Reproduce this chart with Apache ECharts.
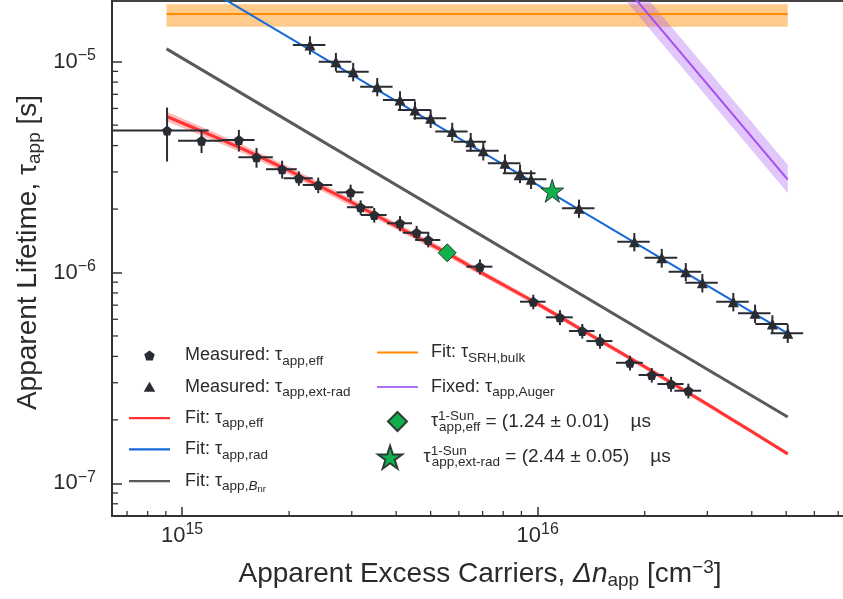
<!DOCTYPE html>
<html><head><meta charset="utf-8">
<script src="https://cdn.jsdelivr.net/npm/echarts@6/dist/echarts.min.js"></script>
<style>html,body{margin:0;padding:0;background:#fff}#c{width:843px;height:599px}</style>
</head><body><div id="c"></div>
<script>
// ---------- data ----------
// Measured tau_app,eff (pentagons)
const effN      = [9.07e14,1.134e15,1.444e15,1.619e15,1.911e15,2.13e15,2.414e15,2.978e15,3.177e15,3.47e15,4.10e15,4.566e15,4.922e15,6.88e15,9.72e15,1.155e16,1.335e16,1.497e16,1.818e16,2.093e16,2.372e16,2.653e16];
const effTau    = [4.71e-6,4.22e-6,4.25e-6,3.52e-6,3.09e-6,2.80e-6,2.60e-6,2.40e-6,2.04e-6,1.874e-6,1.712e-6,1.544e-6,1.426e-6,1.066e-6,7.27e-7,6.13e-7,5.28e-7,4.73e-7,3.73e-7,3.265e-7,2.96e-7,2.75e-7];
const effNErr   = [2.8e14,1.6e14,1.55e14,1.8e14,1.9e14,2.0e14,2.3e14,2.6e14,2.7e14,2.9e14,3.3e14,3.9e14,4.0e14,5.8e14,8.0e14,1.0e15,1.1e15,1.26e15,1.57e15,1.7e15,2.0e15,2.3e15];
const effTauErr = [1.35e-6,5.3e-7,5.0e-7,3.8e-7,3.0e-7,2.2e-7,2.2e-7,2.1e-7,1.6e-7,1.5e-7,1.4e-7,1.2e-7,1.1e-7,8.8e-8,5.8e-8,5.0e-8,4.2e-8,3.8e-8,3.0e-8,2.6e-8,2.4e-8,2.2e-8];
// Measured tau_app,ext-rad (triangles)
const radN      = [2.288e15,2.707e15,3.028e15,3.538e15,4.10e15,4.517e15,5.0e15,5.75e15,6.48e15,7.03e15,8.09e15,8.92e15,9.58e15,1.307e16,1.87e16,2.233e16,2.609e16,2.905e16,3.55e16,4.087e16,4.572e16,5.05e16];
const radTau    = [1.2e-5,1.0e-5,8.97e-6,7.61e-6,6.58e-6,5.90e-6,5.39e-6,4.66e-6,4.17e-6,3.78e-6,3.30e-6,2.955e-6,2.77e-6,2.016e-6,1.40e-6,1.175e-6,1.009e-6,8.94e-7,7.27e-7,6.40e-7,5.70e-7,5.15e-7];
const radNErr   = [2.4e14,2.85e14,3.2e14,3.7e14,4.3e14,4.75e14,5.3e14,6.0e14,6.8e14,7.4e14,8.5e14,9.4e14,1.0e15,1.37e15,1.96e15,2.35e15,2.74e15,3.05e15,3.73e15,4.3e15,4.8e15,5.3e15];
const radTauErr = [1.2e-6,1.0e-6,9.0e-7,7.6e-7,6.6e-7,5.9e-7,5.4e-7,4.7e-7,4.2e-7,3.8e-7,3.3e-7,3.0e-7,2.8e-7,2.0e-7,1.4e-7,1.2e-7,1.0e-7,9.0e-8,7.3e-8,6.4e-8,5.7e-8,5.2e-8];
// Fit tau_app,eff (red) with its band
const fitEffN   = [9.04e14,1.2e15,1.5e15,2e15,3e15,4e15,5.57e15,7e15,1e16,1.5e16,2e16,3e16,4e16,5.05e16];
const fitEffTau = [5.5e-6,4.5e-6,3.82e-6,3.04e-6,2.15e-6,1.66e-6,1.235e-6,9.9e-7,7.1e-7,4.75e-7,3.57e-7,2.37e-7,1.76e-7,1.38e-7];
const fitEffHi  = [5.78e-6,4.71e-6,3.99e-6,3.17e-6,2.24e-6,1.72e-6,1.28e-6,1.02e-6,7.3e-7,4.88e-7,3.66e-7,2.43e-7,1.80e-7,1.41e-7];
const fitEffLo  = [5.22e-6,4.29e-6,3.65e-6,2.91e-6,2.06e-6,1.60e-6,1.19e-6,9.6e-7,6.9e-7,4.62e-7,3.48e-7,2.31e-7,1.72e-7,1.35e-7];
// Fit tau_app,rad (blue) and tau_app,Bnr (gray)
const fitRadN   = [9.04e14,5.05e16];
const fitRadTau = [2.88e-5,5.15e-7];
const fitBnrN   = [9.04e14,5.05e16];
const fitBnrTau = [1.15e-5,2.063e-7];
// Fit tau_SRH,bulk (orange) with band
const srhN   = [9.04e14,5.05e16];
const srhTau = [1.683e-5,1.683e-5];
const srhHi  = [1.872e-5,1.872e-5];
const srhLo  = [1.466e-5,1.466e-5];
// Fixed tau_app,Auger (purple) with band
const augN   = [1.5e16,5.05e16];
const augTau = [3.13e-5,2.76e-6];
const augHi  = [3.67e-5,3.24e-6];
const augLo  = [2.71e-5,2.386e-6];
// 1-Sun markers
const sunEffPt = [5.567e15,1.24e-6];
const sunRadPt = [1.099e16,2.44e-6];
// axis ranges and minor tick mantissas
const xMin = 6.35e14, xMax = 7.46e16;
const yMin = 7.0e-8,  yMax = 1.94e-5;
const minorMant = [2,3,4,5,6,7,8,9];
const xDecades = [1e14,1e15,1e16];
const yDecades = [1e-8,1e-7,1e-6,1e-5];

// ---------- helpers ----------
const FONT = "'Liberation Sans', Arial, Helvetica, sans-serif";
const TXT = '#2b2b2b';
const MK = '#2a2c33';
const pentagon = 'path://M0,-10 L9.51,-3.09 L5.88,8.09 L-5.88,8.09 L-9.51,-3.09 Z';
const triangle = 'path://M0,-10 L8.66,5 L-8.66,5 Z';
const diamond  = 'path://M0,-10 L10,0 L0,10 L-10,0 Z';
const star = 'path://M0,-10 L2.245,-3.09 L9.51,-3.09 L3.633,1.18 L5.88,8.09 L0,3.82 L-5.88,8.09 L-3.633,1.18 L-9.51,-3.09 L-2.245,-3.09 Z';
const lineIcon = 'path://M0,0 L41,0 L41,2.2 L0,2.2 Z';
const zip = (a,b) => a.map((v,i)=>[v,b[i]]);

function band(xs, lo, hi, fill, z){
  return {type:'custom', coordinateSystem:'cartesian2d', clip:true, silent:true, z:z,
    data:[[xs[0], lo[0]]], encode:{x:0,y:1},
    renderItem:function(params, api){
      const pts=[];
      for(let i=0;i<xs.length;i++) pts.push(api.coord([xs[i],hi[i]]));
      for(let i=xs.length-1;i>=0;i--) pts.push(api.coord([xs[i],lo[i]]));
      return {type:'polygon', shape:{points:pts}, style:{fill:fill}};
    }};
}
function errBars(xs, ys, dx, dy){
  return {type:'custom', coordinateSystem:'cartesian2d', clip:true, silent:true, z:6,
    data: xs.map((x,i)=>[x, ys[i], dx[i], dy[i]]), encode:{x:0,y:1},
    renderItem:function(params, api){
      const x=api.value(0), y=api.value(1), ex=api.value(2), ey=api.value(3);
      const l=api.coord([x-ex,y]), r=api.coord([x+ex,y]);
      const t=api.coord([x,y+ey]), b=api.coord([x,y-ey]);
      return {type:'group', children:[
        {type:'line', shape:{x1:l[0],y1:l[1],x2:r[0],y2:r[1]}, style:{stroke:MK,lineWidth:2}},
        {type:'line', shape:{x1:t[0],y1:t[1],x2:b[0],y2:b[1]}, style:{stroke:MK,lineWidth:2}}
      ]};
    }};
}
const xMinorVals=[], yMinorVals=[];
xDecades.forEach(d=>minorMant.forEach(m=>{const v=m*d; if(v>xMin*1.001 && v<xMax) xMinorVals.push(v);}));
yDecades.forEach(d=>minorMant.forEach(m=>{const v=m*d; if(v>yMin*1.001 && v<yMax) yMinorVals.push(v);}));
const minorX = {type:'custom', coordinateSystem:'cartesian2d', silent:true, z:10,
  data: xMinorVals.map(v=>[v,yMin]), encode:{x:0,y:1},
  renderItem:function(p, api){ const c=api.coord([api.value(0), yMin]);
    return {type:'line', shape:{x1:c[0],y1:c[1],x2:c[0],y2:c[1]-5}, style:{stroke:'#333',lineWidth:1.3}}; }};
const minorY = {type:'custom', coordinateSystem:'cartesian2d', silent:true, z:10,
  data: yMinorVals.map(v=>[xMin,v]), encode:{x:0,y:1},
  renderItem:function(p, api){ const c=api.coord([xMin, api.value(1)]);
    return {type:'line', shape:{x1:c[0],y1:c[1],x2:c[0]+6,y2:c[1]}, style:{stroke:'#333',lineWidth:1.3}}; }};

const legRich = {
  n:{fontSize:18, lineHeight:30, color:TXT, fontFamily:FONT},
  q:{fontSize:19, lineHeight:30, color:TXT, fontFamily:FONT},
  s:{fontSize:13.5, lineHeight:13, padding:[11,0,0,0], color:TXT, fontFamily:FONT},
  si:{fontSize:13.5, lineHeight:13, padding:[11,0,0,0], color:TXT, fontFamily:FONT, fontStyle:'italic'},
  ss:{fontSize:9.5, lineHeight:9, padding:[16,0,0,0], color:TXT, fontFamily:FONT},
  pz:{fontSize:13.5, lineHeight:13, padding:[0,0,11,0], width:1, color:TXT, fontFamily:FONT}
};
const legText = {
  'meff':'{n|Measured: τ}{s|app,eff}',
  'mrad':'{n|Measured: τ}{s|app,ext-rad}',
  'feff':'{n|Fit: τ}{s|app,eff}',
  'frad':'{n|Fit: τ}{s|app,rad}',
  'fbnr':'{n|Fit: τ}{s|app,}{si|B}{ss|nr}',
  'fsrh':'{n|Fit: τ}{s|SRH,bulk}',
  'faug':'{n|Fixed: τ}{s|app,Auger}',
  'seff':'{n|τ}{pz|1-Sun}{s|app,eff}{q| = (1.24 ± 0.01)    µs}',
  'srad':'{n|τ}{pz|1-Sun}{s|app,ext-rad}{q| = (2.44 ± 0.05)    µs}'
};
const legFmt = name => legText[name];
const legBase = {orient:'vertical', itemWidth:41, formatter:legFmt, selectedMode:false, padding:0};

function expLabel(v){
  const l=Math.log10(v), e=Math.round(l);
  if(Math.abs(l-e)>1e-6) return '';
  return '{b|10}{e|'+(e<0?'−':'')+Math.abs(e)+'}';
}
const tickRich = {b:{fontSize:22, color:TXT, fontFamily:FONT}, e:{fontSize:16, color:TXT, fontFamily:FONT, padding:[0,0,12,0]}};

const option = {
  animation:false,
  backgroundColor:'#fff',
  grid:{left:112, top:1, width:736, height:515, show:true, borderColor:'#444', borderWidth:2, outerBoundsMode:'none'},
  xAxis:{type:'log', logBase:10, min:xMin, max:xMax, nameMoveOverlap:false,
    name:'{n|Apparent Excess Carriers, }{i|Δn}{s|app}{n| [cm}{p|−3}{n|]}',
    nameLocation:'middle', nameGap:42,
    nameTextStyle:{rich:{n:{fontSize:28,color:TXT,fontFamily:FONT}, i:{fontSize:28,color:TXT,fontFamily:FONT,fontStyle:'italic'},
      s:{fontSize:19,color:TXT,fontFamily:FONT,padding:[12,0,0,0]}, p:{fontSize:19,color:TXT,fontFamily:FONT,padding:[0,0,14,0]}}},
    axisLine:{lineStyle:{color:'#333',width:2}},
    axisTick:{inside:true,length:9,lineStyle:{color:'#333',width:1.5}},
    axisLabel:{formatter:expLabel, rich:tickRich, margin:6, showMinLabel:false, showMaxLabel:false},
    splitLine:{show:false}, minorTick:{show:false}},
  yAxis:{type:'log', logBase:10, min:yMin, max:yMax, nameMoveOverlap:false,
    name:'{n|Apparent Lifetime, τ}{s|app}{n| [s]}',
    nameLocation:'middle', nameGap:68,
    nameTextStyle:{padding:[0,0,0,12], rich:{n:{fontSize:28,color:TXT,fontFamily:FONT},
      s:{fontSize:19,color:TXT,fontFamily:FONT,padding:[12,0,0,0]}}},
    axisLine:{lineStyle:{color:'#333',width:2}},
    axisTick:{inside:true,length:10,lineStyle:{color:'#333',width:1.5}},
    axisLabel:{formatter:expLabel, rich:tickRich, margin:16, showMinLabel:false, showMaxLabel:false},
    splitLine:{show:false}, minorTick:{show:false}},
  legend:[
    Object.assign({}, legBase, {left:129, top:343, itemHeight:10, itemGap:6.3,
      textStyle:{rich:legRich, padding:[0,0,0,10], fontFamily:FONT},
      data:[{name:'meff',icon:pentagon},{name:'mrad',icon:triangle},{name:'feff',icon:lineIcon},{name:'frad',icon:lineIcon},{name:'fbnr',icon:lineIcon}]}),
    Object.assign({}, legBase, {left:377, top:340, itemHeight:19, itemGap:9.5,
      textStyle:{rich:legRich, padding:[0,0,0,8], fontFamily:FONT},
      data:[{name:'fsrh',icon:lineIcon},{name:'faug',icon:lineIcon},{name:'seff',icon:diamond}]}),
    Object.assign({}, legBase, {left:377, top:444.7, itemHeight:23, itemGap:2,
      textStyle:{rich:legRich, padding:[0,0,0,8], fontFamily:FONT},
      data:[{name:'srad',icon:star}]})
  ],
  series:[
    band(srhN, srhLo, srhHi, 'rgba(255,140,0,0.45)', 1),
    {name:'fsrh', type:'line', data:zip(srhN,srhTau), symbol:'none', z:2, lineStyle:{color:'#ff8c00',width:2}, itemStyle:{color:'#ff8c00'}},
    band(augN, augLo, augHi, 'rgba(165,85,240,0.33)', 1),
    {name:'faug', type:'line', data:zip(augN,augTau), symbol:'none', z:2, lineStyle:{color:'#a64ff0',width:2}, itemStyle:{color:'#b070f5'}},
    band(fitEffN, fitEffLo, fitEffHi, 'rgba(255,60,60,0.35)', 2),
    {name:'feff', type:'line', data:zip(fitEffN,fitEffTau), symbol:'none', smooth:0.2, z:3, lineStyle:{color:'#ff3333',width:3}, itemStyle:{color:'#ff3333'}},
    {name:'frad', type:'line', data:zip(fitRadN,fitRadTau), symbol:'none', z:3, lineStyle:{color:'#1469d8',width:2}, itemStyle:{color:'#1469d8'}},
    {name:'fbnr', type:'line', data:zip(fitBnrN,fitBnrTau), symbol:'none', z:3, lineStyle:{color:'#5a5a5a',width:3}, itemStyle:{color:'#5a5a5a'}},
    errBars(effN, effTau, effNErr, effTauErr),
    errBars(radN, radTau, radNErr, radTauErr),
    {name:'meff', type:'scatter', data:zip(effN,effTau), symbol:pentagon, symbolSize:10, z:7, itemStyle:{color:MK, opacity:1}},
    {name:'mrad', type:'scatter', data:zip(radN,radTau), symbol:'triangle', symbolSize:11, z:7, itemStyle:{color:MK, opacity:1}},
    {name:'seff', type:'scatter', data:[sunEffPt], symbol:'diamond', symbolSize:18, z:8, itemStyle:{color:'#12b04c', borderColor:'#2d3d33', borderWidth:1, opacity:1}},
    {name:'srad', type:'scatter', data:[sunRadPt], symbol:star, symbolSize:23, z:8, itemStyle:{color:'#12b04c', borderColor:'#2d3d33', borderWidth:1, opacity:1}},
    minorX, minorY
  ]
};
const chart = echarts.init(document.getElementById('c'), null, {renderer:'canvas'});
chart.setOption(option);
</script>
</body></html>
